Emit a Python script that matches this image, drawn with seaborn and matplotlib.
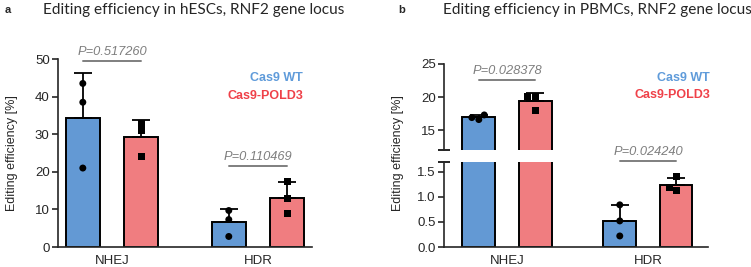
import pandas as pd
import seaborn as sns
import matplotlib.pyplot as plt
import numpy as np

categories = ["NHEJ", "HDR"]
groups = ["Cas9 WT", "Cas9-POLD3"]

# hESCs, replicate values (%)
hesc_wt_nhej = [43.5, 38.5, 21.0]
hesc_pold3_nhej = [32.8, 30.9, 24.1]
hesc_wt_hdr = [9.7, 7.3, 2.8]
hesc_pold3_hdr = [17.3, 13.0, 8.8]

# PBMCs, replicate values (%)
pbmc_wt_nhej = [17.3, 16.9, 16.6]
pbmc_pold3_nhej = [20.1, 20.1, 18.0]
pbmc_wt_hdr = [0.84, 0.52, 0.22]
pbmc_pold3_hdr = [1.40, 1.18, 1.12]

hesc_pvals = ["P=0.517260", "P=0.110469"]
pbmc_pvals = ["P=0.028378", "P=0.024240"]

blue = "#6399D4"
red = "#F07D80"
legend_blue = "#5F9BDA"
legend_red = "#EF4149"


def long_df(wt_nhej, pold3_nhej, wt_hdr, pold3_hdr):
    rows = []
    for cat, grp, vals in [("NHEJ", groups[0], wt_nhej), ("NHEJ", groups[1], pold3_nhej),
                           ("HDR", groups[0], wt_hdr), ("HDR", groups[1], pold3_hdr)]:
        for v in vals:
            rows.append({"cat": cat, "group": grp, "val": v})
    return pd.DataFrame(rows)


hesc = long_df(hesc_wt_nhej, hesc_pold3_nhej, hesc_wt_hdr, hesc_pold3_hdr)
pbmc = long_df(pbmc_wt_nhej, pbmc_pold3_nhej, pbmc_wt_hdr, pbmc_pold3_hdr)

sns.set_theme(style="ticks")
plt.rcParams['font.family'] = ['Liberation Sans', 'DejaVu Sans']
plt.rcParams['axes.linewidth'] = 1.2

W, H = 751, 267
fig = plt.figure(figsize=(W / 100, H / 100), dpi=100)


def rect(x0, y0, x1, y1):
    return [x0 / W, 1 - y1 / H, (x1 - x0) / W, (y1 - y0) / H]


def draw(ax, df):
    sns.barplot(data=df, x="cat", y="val", hue="group", order=categories, hue_order=groups,
                palette=[blue, red], errorbar=None, width=0.8, gap=0.42,
                edgecolor="black", linewidth=1.4, saturation=1, legend=False, ax=ax)
    stats = df.groupby(["group", "cat"])["val"].agg(["mean", "std"])
    for g, cont in zip(groups, ax.containers):
        for c, bar in zip(categories, cont):
            xc = bar.get_x() + bar.get_width() / 2
            m, s = stats.loc[(g, c)]
            ax.errorbar([xc], [m], yerr=[[0], [s]], color="black", elinewidth=1.3,
                        capsize=6.5, capthick=1.3, zorder=3)
    pal = {groups[0]: "black", groups[1]: "black"}
    for g, mk in zip(groups, ["o", "s"]):
        sns.swarmplot(data=df[df["group"] == g], x="cat", y="val", hue="group",
                      order=categories, hue_order=groups, palette=pal, dodge=True,
                      marker=mk, size=5, linewidth=0, legend=False, ax=ax, zorder=4)
    ax.set_xlabel("")
    ax.set_ylabel("")
    ax.tick_params(axis="y", labelsize=9.5, length=4, width=1.2, pad=2)
    ax.tick_params(axis="x", labelsize=9.5, length=0, pad=6)
    sns.despine(ax=ax)


def pline(ax, cont_a, cont_b, i, y, label):
    a = cont_a[i]
    b = cont_b[i]
    x0 = a.get_x() + a.get_width() / 2
    x1 = b.get_x() + b.get_width() / 2
    ax.plot([x0, x1], [y, y], color="#7f7f7f", lw=1.4, clip_on=False)
    ax.annotate(label, xy=((x0 + x1) / 2, y), xytext=(0, 2), textcoords="offset points",
                ha="center", va="bottom", fontsize=9.3, style="italic", color="#7f7f7f",
                annotation_clip=False)


# ---- panel a ----
ax1 = fig.add_axes(rect(58, 59, 312, 247))
draw(ax1, hesc)
ax1.set_xlim(-0.37, 1.37)
ax1.set_ylim(0, 50)
ax1.set_yticks(np.arange(0, 51, 10))
pline(ax1, ax1.containers[0], ax1.containers[1], 0, 49.5, hesc_pvals[0])
pline(ax1, ax1.containers[0], ax1.containers[1], 1, 21.5, hesc_pvals[1])
ax1.text(0.965, 0.9, "Cas9 WT", transform=ax1.transAxes, ha="right", va="center",
         fontsize=9, fontweight="bold", color=legend_blue)
ax1.text(0.965, 0.803, "Cas9-POLD3", transform=ax1.transAxes, ha="right", va="center",
         fontsize=9, fontweight="bold", color=legend_red)
fig.text(12 / W, 1 - 153 / H, "Editing efficiency [%]", rotation=90, ha="center",
         va="center", fontsize=9)

# ---- panel b (broken axis) ----
ax_top = fig.add_axes(rect(444, 64, 708, 150))
ax_bot = fig.add_axes(rect(444, 161.7, 708, 247))
draw(ax_top, pbmc)
draw(ax_bot, pbmc)
for ax in (ax_top, ax_bot):
    ax.set_xlim(-0.447, 1.426)
ax_top.set_ylim(12, 25)
ax_top.set_yticks([15, 20, 25])
ax_top.spines["bottom"].set_visible(False)
ax_top.tick_params(axis="x", bottom=False, labelbottom=False)
ax_bot.set_ylim(0, 1.7)
ax_bot.set_yticks([0, 0.5, 1.0, 1.5])
ax_bot.set_yticklabels(["0.0", "0.5", "1.0", "1.5"])
ax_top.plot([0], [0], marker="_", markersize=8, mew=1.2, color="black",
            transform=ax_top.transAxes, clip_on=False)
ax_bot.plot([0], [1], marker="_", markersize=8, mew=1.2, color="black",
            transform=ax_bot.transAxes, clip_on=False)
pline(ax_top, ax_top.containers[0], ax_top.containers[1], 0, 22.6, pbmc_pvals[0])
pline(ax_bot, ax_bot.containers[0], ax_bot.containers[1], 1, 1.72, pbmc_pvals[1])
fig.text(710 / W, 1 - 78 / H, "Cas9 WT", ha="right", va="center",
         fontsize=9, fontweight="bold", color=legend_blue)
fig.text(710 / W, 1 - 95 / H, "Cas9-POLD3", ha="right", va="center",
         fontsize=9, fontweight="bold", color=legend_red)
fig.text(398 / W, 1 - 153 / H, "Editing efficiency [%]", rotation=90, ha="center",
         va="center", fontsize=9)

# ---- titles ----
fig.text(5 / W, 1 - 10 / H, "a", fontsize=8, fontweight="bold", va="center")
fig.text(43 / W, 1 - 10 / H, "Editing efficiency in hESCs, RNF2 gene locus",
         fontsize=11.1, va="center", family=["Lato", "DejaVu Sans"])
fig.text(398 / W, 1 - 10 / H, "b", fontsize=8, fontweight="bold", va="center")
fig.text(443 / W, 1 - 10 / H, "Editing efficiency in PBMCs, RNF2 gene locus",
         fontsize=11.1, va="center", family=["Lato", "DejaVu Sans"])

fig.savefig("out.png", dpi=100)
